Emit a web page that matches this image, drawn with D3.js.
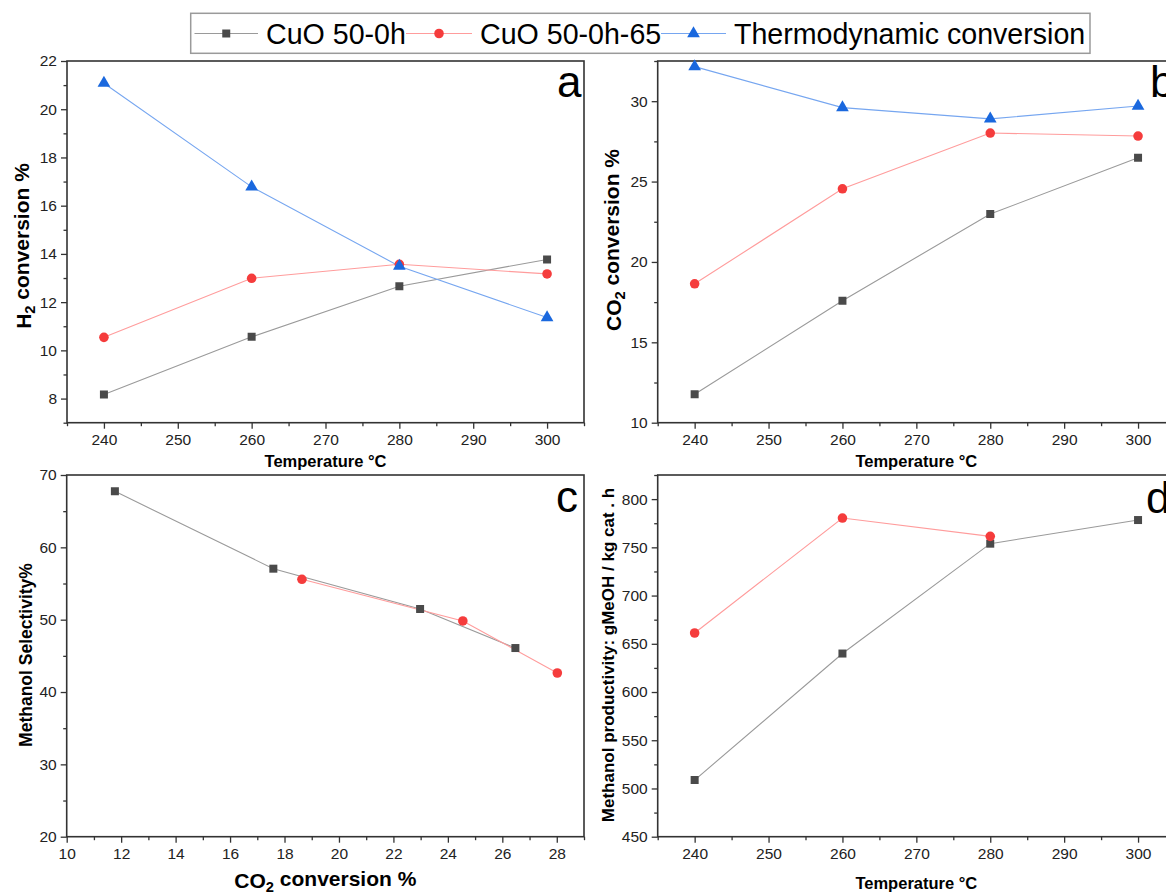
<!DOCTYPE html>
<html><head><meta charset="utf-8">
<script src="https://cdn.jsdelivr.net/npm/d3@7"></script>
<style>body{margin:0;background:#fff}svg{display:block}text{font-family:"Liberation Sans",Arial,sans-serif}</style>
</head><body>
<svg id="c" width="1166" height="894"></svg>
<script>
// ---- data ----
const temps = [240, 260, 280, 300];
const seriesNames = ["CuO 50-0h", "CuO 50-0h-65", "Thermodynamic conversion"];
const h2CuO = [8.17, 10.56, 12.66, 13.77];
const h2CuO65 = [10.54, 12.99, 13.57, 13.17];
const h2Thermo = [21.08, 16.78, 13.49, 11.36];
const co2CuO = [11.77, 17.59, 22.98, 26.48];
const co2CuO65 = [18.64, 24.55, 28.02, 27.83];
const co2Thermo = [32.15, 29.6, 28.9, 29.7];
const selCuOx = [11.77, 17.59, 22.98, 26.48];
const selCuOy = [67.74, 57.05, 51.48, 46.08];
const selCuO65x = [18.64, 24.55, 28.02];
const selCuO65y = [55.58, 49.82, 42.63];
const prodTempsCuO65 = [240, 260, 280];
const prodCuO = [508.7, 639.9, 753.8, 778.3];
const prodCuO65 = [661.2, 780.4, 761.4];
const tempTicks = [240, 250, 260, 270, 280, 290, 300];
const h2Ticks = [8, 10, 12, 14, 16, 18, 20, 22];
const co2Ticks = [10, 15, 20, 25, 30];
const selXTicks = [10, 12, 14, 16, 18, 20, 22, 24, 26, 28];
const selYTicks = [20, 30, 40, 50, 60, 70];
const prodTicks = [450, 500, 550, 600, 650, 700, 750, 800];

const svg = d3.select("#c");
const styles = [
  {line: "#9a9a9a", fill: "#4a4a4a", sym: d3.symbolSquare, size: 64},
  {line: "#ff9c9c", fill: "#f53c3c", sym: d3.symbolCircle, size: 72},
  {line: "#76a6f0", fill: "#1a68de", sym: d3.symbolTriangle, size: 70}
];

function panel(o) {
  const g = svg.append("g");
  const x = d3.scaleLinear().domain(o.xd).range([o.l, o.r]);
  const y = d3.scaleLinear().domain(o.yd).range([o.b, o.t]);
  g.append("rect").attr("x", o.l).attr("y", o.t).attr("width", o.r - o.l).attr("height", o.b - o.t)
    .attr("fill", "none").attr("stroke", "#333").attr("stroke-width", 1.6);
  const xa = d3.axisBottom(x).tickValues(o.xminor).tickSize(3.5).tickFormat("");
  const ya = d3.axisLeft(y).tickValues(o.yminor).tickSize(3.5).tickFormat("");
  g.append("g").attr("transform", `translate(0,${o.b})`).call(xa).call(s => s.select(".domain").remove())
    .selectAll("line").attr("stroke", "#333").attr("stroke-width", 1.3);
  g.append("g").attr("transform", `translate(${o.l},0)`).call(ya).call(s => s.select(".domain").remove())
    .selectAll("line").attr("stroke", "#333").attr("stroke-width", 1.3);
  const xA = g.append("g").attr("transform", `translate(0,${o.b})`)
    .call(d3.axisBottom(x).tickValues(o.xticks).tickSize(6).tickPadding(5).tickFormat(d3.format("d")));
  const yA = g.append("g").attr("transform", `translate(${o.l},0)`)
    .call(d3.axisLeft(y).tickValues(o.yticks).tickSize(6).tickPadding(4).tickFormat(d3.format("d")));
  [xA, yA].forEach(a => {
    a.select(".domain").remove();
    a.selectAll("line").attr("stroke", "#333").attr("stroke-width", 1.3);
    a.selectAll("text").attr("font-size", 15.5).attr("fill", "#222").attr("font-family", '"Liberation Sans",Arial,sans-serif');
  });
  const cid = "clip" + o.id;
  svg.append("clipPath").attr("id", cid).append("rect")
    .attr("x", o.l - 10).attr("y", o.t - 10).attr("width", o.r - o.l + 20).attr("height", o.b - o.t + 20);
  const pg = g.append("g").attr("clip-path", `url(#${cid})`);
  o.series.forEach(s => {
    const st = styles[s.k];
    const pts = s.x.map((v, i) => [x(v), y(s.y[i])]);
    pg.append("path").attr("d", d3.line()(pts)).attr("fill", "none").attr("stroke", st.line).attr("stroke-width", 1.1);
  });
  o.series.forEach(s => {
    const st = styles[s.k];
    s.x.forEach((v, i) => {
      pg.append("path").attr("d", d3.symbol(st.sym, st.size)())
        .attr("transform", `translate(${x(v)},${y(s.y[i])})`).attr("fill", st.fill);
    });
  });
  g.append("text").attr("x", o.lx).attr("y", o.ly).attr("font-size", 44).attr("fill", "#000").text(o.letter);
  const xt = g.append("text").attr("x", (o.l + o.r) / 2).attr("y", o.xty).attr("text-anchor", "middle")
    .attr("font-size", o.xtfs).attr("font-weight", "bold").attr("fill", "#000");
  o.xtitle(xt);
  const yt = g.append("text").attr("transform", `translate(${o.ytx},${o.yty}) rotate(-90)`).attr("text-anchor", "middle")
    .attr("font-size", o.ytfs).attr("font-weight", "bold").attr("fill", "#000");
  o.ytitle(yt);
}
function plain(t) { return sel => sel.text(t); }
function sub(a, b, c) {
  return sel => {
    sel.append("tspan").text(a);
    sel.append("tspan").attr("font-size", "70%").attr("dy", "0.3em").text(b);
    sel.append("tspan").attr("dy", "-0.3em").text(c);
  };
}
const tMinor = [235, 245, 255, 265, 275, 285, 295, 305];

panel({id: "a", l: 67, r: 584, t: 61, b: 422.7, xd: [235, 305], yd: [7, 22],
  xticks: tempTicks, xminor: tMinor, yticks: h2Ticks, yminor: [7, 9, 11, 13, 15, 17, 19, 21],
  series: [{k: 0, x: temps, y: h2CuO}, {k: 1, x: temps, y: h2CuO65}, {k: 2, x: temps, y: h2Thermo}],
  letter: "a", lx: 557, ly: 97, xty: 467, xtfs: 16.5, xtitle: plain("Temperature °C"),
  ytx: 31, yty: 246, ytfs: 21, ytitle: sub("H", "2", " conversion %")});

panel({id: "b", l: 657.7, r: 1175, t: 61, b: 422.7, xd: [235, 305], yd: [10, 32.5],
  xticks: tempTicks, xminor: tMinor, yticks: co2Ticks, yminor: [12.5, 17.5, 22.5, 27.5, 32.5],
  series: [{k: 0, x: temps, y: co2CuO}, {k: 1, x: temps, y: co2CuO65}, {k: 2, x: temps, y: co2Thermo}],
  letter: "b", lx: 1150, ly: 97, xty: 467, xtfs: 16.5, xtitle: plain("Temperature °C"),
  ytx: 621, yty: 240, ytfs: 21, ytitle: sub("CO", "2", " conversion %")});

panel({id: "c", l: 66.7, r: 584, t: 475, b: 836.7, xd: [10, 29], yd: [20, 70],
  xticks: selXTicks, xminor: [11, 13, 15, 17, 19, 21, 23, 25, 27, 29], yticks: selYTicks, yminor: [25, 35, 45, 55, 65],
  series: [{k: 0, x: selCuOx, y: selCuOy}, {k: 1, x: selCuO65x, y: selCuO65y}],
  letter: "c", lx: 556, ly: 512, xty: 888, xtfs: 21, xtitle: sub("CO", "2", " conversion %"),
  ytx: 32, yty: 655, ytfs: 17.5, ytitle: plain("Methanol Selectivity%")});

panel({id: "d", l: 657.7, r: 1175, t: 475, b: 836.7, xd: [235, 305], yd: [450, 825],
  xticks: tempTicks, xminor: tMinor, yticks: prodTicks, yminor: [475, 525, 575, 625, 675, 725, 775, 825],
  series: [{k: 0, x: temps, y: prodCuO}, {k: 1, x: prodTempsCuO65, y: prodCuO65}],
  letter: "d", lx: 1146, ly: 513, xty: 889, xtfs: 16.5, xtitle: plain("Temperature °C"),
  ytx: 614, yty: 655, ytfs: 17, ytitle: plain("Methanol productivity: gMeOH / kg cat . h")});

// legend
const lg = svg.append("g");
lg.append("rect").attr("x", 190.7).attr("y", 13.3).attr("width", 899.3).attr("height", 40)
  .attr("fill", "#fff").attr("stroke", "#9a9a9a").attr("stroke-width", 1.5);
const legItems = [{x0: 194.5, x1: 258, tx: 266}, {x0: 406, x1: 472, tx: 480}, {x0: 661, x1: 726, tx: 734}];
legItems.forEach((it, i) => {
  const st = styles[i];
  lg.append("line").attr("x1", it.x0).attr("x2", it.x1).attr("y1", 33.5).attr("y2", 33.5)
    .attr("stroke", st.line).attr("stroke-width", 1.1);
  lg.append("path").attr("d", d3.symbol(st.sym, st.size)()).attr("transform", `translate(${(it.x0 + it.x1) / 2},33.5)`).attr("fill", st.fill);
  lg.append("text").attr("x", it.tx).attr("y", 43.5).attr("font-size", 28.6).attr("fill", "#000").text(seriesNames[i]);
});
</script>
</body></html>
